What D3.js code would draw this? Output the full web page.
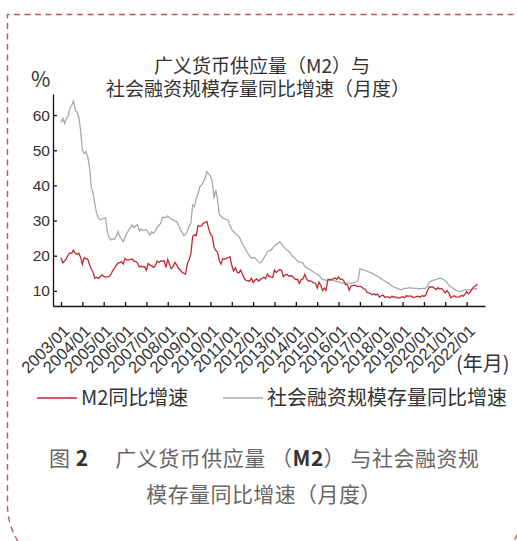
<!DOCTYPE html>
<html>
<head>
<meta charset="utf-8">
<script src="https://cdn.jsdelivr.net/npm/d3@7"></script>
<style>
body { margin: 0; background: #fff; }
</style>
</head>
<body>
<script>
// 2003/01 ~ 2022/07 월별 데이터
var startYear = 2003;

var m2 = [
    19.4, 18.0, 18.5, 19.2, 20.2, 20.8, 20.7, 21.6, 20.7, 20.4, 20.7, 19.6,
    17.6, 19.4, 19.1, 19.1, 17.5, 16.2, 15.3, 13.6, 13.9, 13.5, 14.0, 14.6,
    14.1, 13.9, 14.0, 14.1, 14.6, 15.7, 16.3, 17.3, 17.9, 18.0, 18.3, 17.6,
    19.2, 18.8, 18.8, 18.9, 19.1, 18.4, 18.4, 17.9, 16.8, 17.1, 16.8, 16.9,
    15.9, 17.8, 17.3, 17.1, 16.7, 17.1, 18.5, 18.1, 18.5, 18.5, 18.5, 16.7,
    18.9, 17.5, 16.3, 16.9, 18.1, 17.4, 16.4, 16.0, 15.3, 15.0, 14.8, 17.8,
    18.8, 20.5, 25.5, 26.0, 25.7, 28.5, 28.4, 28.5, 29.3, 29.4, 29.7, 27.7,
    26.1, 25.5, 22.5, 21.5, 21.0, 18.5, 17.6, 19.2, 19.0, 19.3, 19.5, 19.7,
    17.2, 15.7, 16.6, 15.3, 15.1, 15.9, 14.7, 13.5, 13.0, 12.9, 12.7, 13.6,
    12.4, 13.0, 13.4, 12.8, 13.2, 13.6, 13.9, 13.5, 14.8, 14.1, 13.9, 13.8,
    15.9, 15.2, 15.7, 16.1, 15.8, 14.0, 14.5, 14.7, 14.2, 14.3, 14.2, 13.6,
    13.2, 13.3, 12.1, 13.2, 13.4, 14.7, 13.5, 12.8, 12.9, 12.6, 12.3, 12.2,
    10.8, 12.5, 11.6, 10.1, 10.8, 10.2, 13.3, 13.3, 13.1, 13.5, 13.7, 13.3,
    14.0, 13.3, 13.4, 12.8, 11.8, 11.8, 10.2, 11.4, 11.5, 11.6, 11.4, 11.3,
    11.3, 11.1, 10.6, 10.5, 9.6, 9.4, 9.2, 8.9, 9.2, 8.8, 9.1, 8.2,
    8.6, 8.8, 8.2, 8.3, 8.3, 8.0, 8.5, 8.2, 8.3, 8.0, 8.0, 8.1,
    8.4, 8.0, 8.6, 8.5, 8.5, 8.5, 8.1, 8.2, 8.4, 8.4, 8.2, 8.7,
    8.4, 8.8, 10.1, 11.1, 11.1, 11.1, 10.7, 10.4, 10.9, 10.5, 10.7, 10.1,
    9.4, 10.1, 9.4, 8.1, 8.3, 8.6, 8.3, 8.2, 8.3, 8.7, 8.5, 9.0,
    9.8, 9.2, 9.7, 10.5, 11.1, 11.4, 12.0
];

var tsf = [
    57.9, 59.1, 57.6, 59.0, 59.7, 62.0, 62.8, 64.0, 61.4, 60.9, 59.5, 55.7,
    50.1, 49.1, 49.6, 48.2, 45.3, 39.6, 37.8, 34.9, 32.1, 30.7, 30.2, 30.4,
    30.7, 30.8, 27.0, 25.2, 24.5, 24.8, 24.7, 25.5, 26.9, 25.5, 24.8, 24.0,
    25.2, 26.4, 27.2, 28.0, 28.8, 28.0, 28.5, 28.8, 27.0, 27.6, 27.2, 27.3,
    27.4, 26.6, 25.9, 26.8, 26.4, 27.0, 28.0, 28.6, 29.2, 30.9, 31.0, 30.8,
    31.3, 30.8, 30.4, 30.2, 29.9, 29.7, 28.8, 27.4, 26.7, 25.7, 26.0, 26.9,
    28.5, 29.2, 34.4, 34.0, 36.3, 37.5, 39.6, 40.1, 41.0, 42.0, 43.9, 43.3,
    42.7, 41.1, 36.3, 38.7, 35.9, 31.6, 31.2, 30.7, 30.5, 30.2, 30.1, 28.5,
    27.4, 26.9, 26.3, 25.8, 25.5, 24.5, 23.3, 22.4, 21.5, 20.7, 20.0, 19.3,
    19.5, 19.4, 18.8, 18.2, 18.0, 18.5, 19.3, 20.2, 21.2, 21.4, 21.6, 22.2,
    22.8, 23.2, 23.5, 24.0, 23.4, 22.6, 22.1, 21.6, 21.2, 20.7, 19.9, 19.5,
    19.0, 18.5, 18.2, 18.1, 17.9, 16.9, 16.6, 16.3, 16.0, 15.7, 15.3, 15.0,
    14.7, 14.4, 13.8, 13.3, 13.2, 13.0, 12.9, 13.0, 13.1, 13.1, 12.8, 12.7,
    12.6, 12.4, 12.2, 12.3, 12.3, 12.3, 12.2, 12.2, 12.2, 12.4, 12.6, 12.9,
    16.3, 16.1, 16.0, 15.8, 15.6, 15.4, 15.2, 15.0, 14.7, 14.4, 14.1, 13.8,
    13.4, 13.1, 12.8, 12.5, 12.2, 11.8, 11.4, 11.1, 10.9, 10.7, 10.5, 10.3,
    10.5, 10.8, 10.7, 10.8, 10.9, 10.8, 10.8, 10.7, 10.7, 10.6, 10.6, 10.7,
    10.7, 10.7, 11.5, 12.4, 12.7, 13.0, 13.1, 13.3, 13.5, 13.6, 13.4, 13.3,
    12.8, 12.4, 11.6, 11.2, 10.9, 10.5, 10.2, 10.0, 9.8, 9.9, 10.1, 10.3,
    10.3, 10.3, 10.3, 10.4, 10.5, 10.6, 10.6
];

var xTickYears = d3.range(2003, 2023);
var xTickLabels = xTickYears.map(function(y) { return y + "/01"; });
var yTicks = [10, 20, 30, 40, 50, 60];

var w = 517;
var h = 541;

var svg = d3.select("body").append("svg")
            .attr("width", w)
            .attr("height", h);

// 바깥 점선 테두리
svg.append("path")
    .attr("d", "M545,14.5 H7.5 V505 A68,68 0 0 0 75.5,573 H456 A68,68 0 0 0 524,505 V-10")
    .attr("fill", "none")
    .attr("stroke", "#c9505c")
    .attr("stroke-width", 1.4)
    .attr("stroke-dasharray", "6,4.5");

// 스케일
var x = d3.scaleLinear()
          .domain([2002.625, 2022.86])
          .range([53, 485]);
var y = d3.scaleLinear()
          .domain([5.7, 66])
          .range([306, 94]);

var line = d3.line()
    .x(function(d, i) { return x(startYear + i / 12); })
    .y(function(d) { return y(d); });

svg.append("path")
    .datum(tsf)
    .attr("d", line)
    .attr("fill", "none")
    .attr("stroke", "#a9a9a9")
    .attr("stroke-width", 1.3);

svg.append("path")
    .datum(m2)
    .attr("d", line)
    .attr("fill", "none")
    .attr("stroke", "#bf2a32")
    .attr("stroke-width", 1.3);

// 축
var yAxis = svg.append("g")
    .attr("transform", "translate(53,0)")
    .call(d3.axisLeft(y).tickValues(yTicks).tickSize(-4).tickSizeOuter(0).tickPadding(3));

var xAxis = svg.append("g")
    .attr("transform", "translate(0,306)")
    .call(d3.axisBottom(x).tickValues(xTickYears).tickSize(-4).tickSizeOuter(0)
          .tickFormat(function(d, i) { return xTickLabels[i]; }));

svg.selectAll(".domain, .tick line")
    .attr("stroke", "#111")
    .attr("stroke-width", 1.3);

yAxis.selectAll("text")
    .attr("font-family", "Liberation Sans, Arial, sans-serif")
    .attr("font-size", "15.5px")
    .attr("fill", "#333");

xAxis.selectAll("text")
    .attr("x", 0)
    .attr("y", 0)
    .attr("dy", 0)
    .attr("transform", "translate(9,26) rotate(-45)")
    .attr("text-anchor", "end")
    .attr("font-family", "Liberation Sans, Arial, sans-serif")
    .attr("font-size", "16.5px")
    .attr("fill", "#333");

var cjk = "'Noto Sans CJK SC', 'Noto Sans', sans-serif";

// 제목
svg.append("text")
    .text("广义货币供应量（M2）与")
    .attr("x", 262)
    .attr("y", 73)
    .attr("text-anchor", "middle")
    .attr("font-family", cjk)
    .attr("font-size", "19px")
    .attr("fill", "#333");

svg.append("text")
    .text("社会融资规模存量同比增速（月度）")
    .attr("x", 258)
    .attr("y", 96)
    .attr("text-anchor", "middle")
    .attr("font-family", cjk)
    .attr("font-size", "19px")
    .attr("fill", "#333");

svg.append("text")
    .text("%")
    .attr("x", 31)
    .attr("y", 87)
    .attr("font-family", cjk)
    .attr("font-size", "21px")
    .attr("fill", "#333");

svg.append("text")
    .text("(年月)")
    .attr("x", 456)
    .attr("y", 371)
    .attr("font-family", cjk)
    .attr("font-size", "20px")
    .attr("fill", "#333");

// 범례
var legend = [
    { name: "M2同比增速", color: "#bf2a32", x: 37 },
    { name: "社会融资规模存量同比增速", color: "#a9a9a9", x: 223 }
];

svg.selectAll(".leg-line")
    .data(legend)
    .enter()
    .append("line")
    .attr("x1", function(d) { return d.x; })
    .attr("x2", function(d) { return d.x + 40; })
    .attr("y1", 398)
    .attr("y2", 398)
    .attr("stroke", function(d) { return d.color; })
    .attr("stroke-width", 1.3);

svg.selectAll(".leg-text")
    .data(legend)
    .enter()
    .append("text")
    .text(function(d) { return d.name; })
    .attr("x", function(d) { return d.x + 44; })
    .attr("y", 405)
    .attr("font-family", cjk)
    .attr("font-size", "20px")
    .attr("fill", "#333");

// 그림 캡션
var cap1 = svg.append("text")
    .attr("x", 49)
    .attr("y", 466)
    .attr("font-family", cjk)
    .attr("font-size", "21px")
    .attr("fill", "#666")
    .attr("letter-spacing", "0.5px")
    .style("white-space", "pre");
cap1.append("tspan").text("图 ");
cap1.append("tspan").text("2").attr("font-weight", "bold").attr("fill", "#333");
cap1.append("tspan").text("　 广义货币供应量 （");
cap1.append("tspan").text("M2").attr("font-weight", "bold").attr("fill", "#333");
cap1.append("tspan").text("） 与社会融资规");

svg.append("text")
    .text("模存量同比增速（月度）")
    .attr("x", 264)
    .attr("y", 502)
    .attr("text-anchor", "middle")
    .attr("font-family", cjk)
    .attr("font-size", "21px")
    .attr("fill", "#666")
    .attr("letter-spacing", "0.4px");
</script>
</body>
</html>
